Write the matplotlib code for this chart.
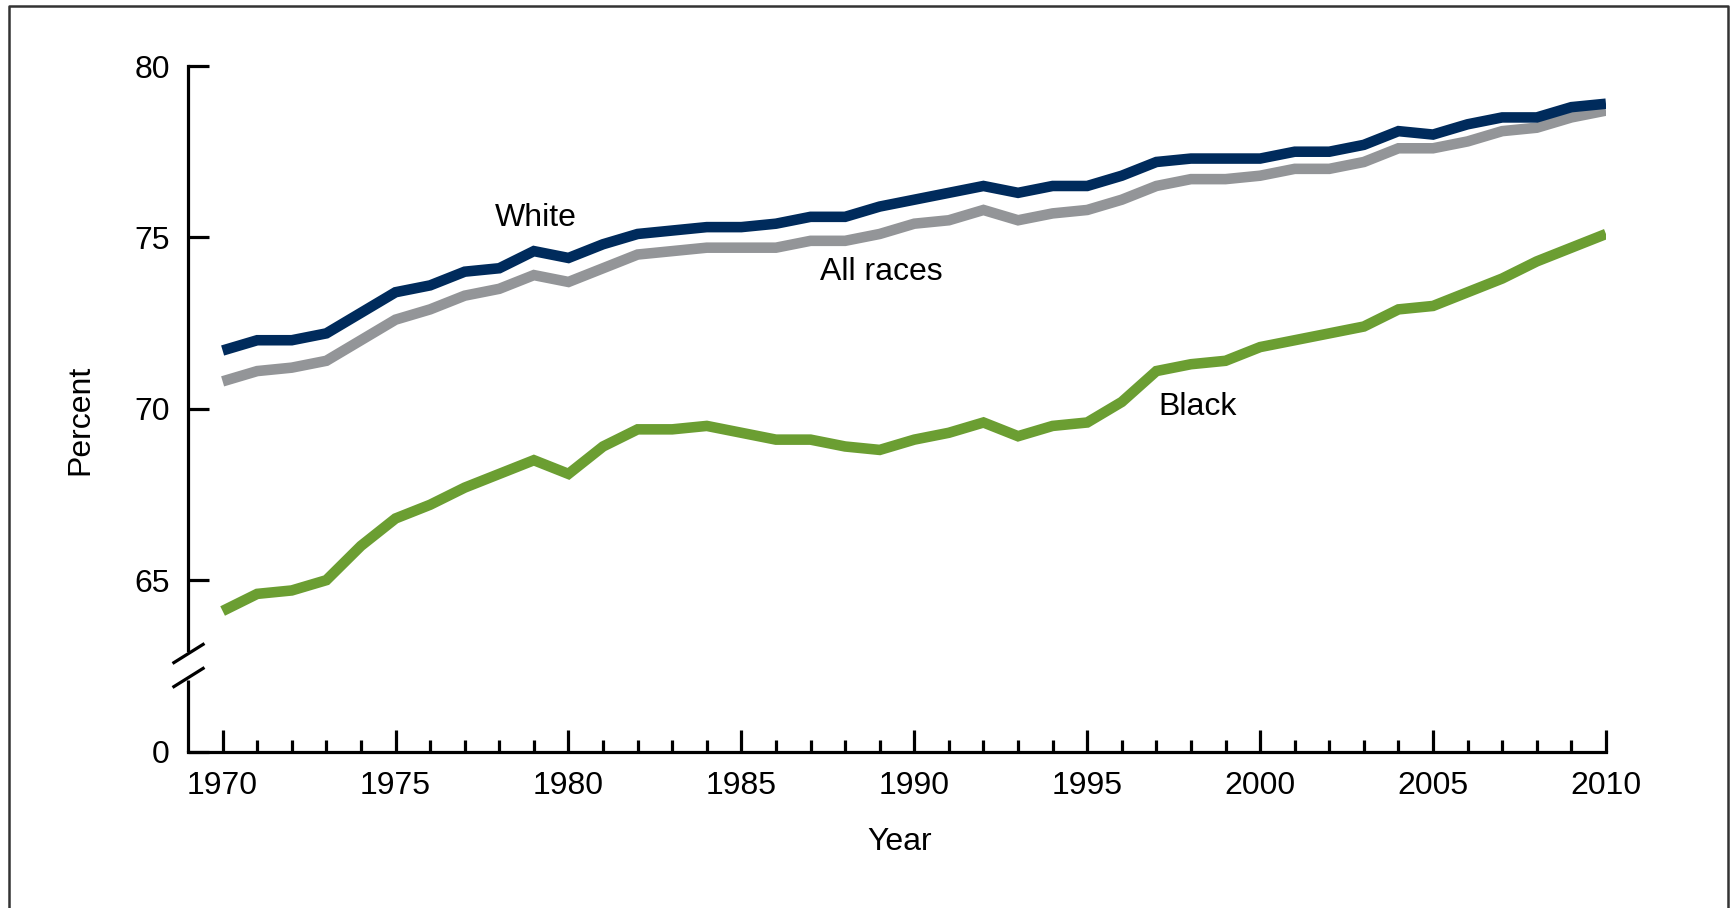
import matplotlib.pyplot as plt
from matplotlib.lines import Line2D

plt.rcParams["font.family"] = ["Liberation Sans", "DejaVu Sans"]

years = list(range(1970, 2011))

white = [71.7, 72.0, 72.0, 72.2, 72.8, 73.4, 73.6, 74.0, 74.1, 74.6,
         74.4, 74.8, 75.1, 75.2, 75.3, 75.3, 75.4, 75.6, 75.6, 75.9,
         76.1, 76.3, 76.5, 76.3, 76.5, 76.5, 76.8, 77.2, 77.3, 77.3,
         77.3, 77.5, 77.5, 77.7, 78.1, 78.0, 78.3, 78.5, 78.5, 78.8,
         78.9]
all_races = [70.8, 71.1, 71.2, 71.4, 72.0, 72.6, 72.9, 73.3, 73.5, 73.9,
             73.7, 74.1, 74.5, 74.6, 74.7, 74.7, 74.7, 74.9, 74.9, 75.1,
             75.4, 75.5, 75.8, 75.5, 75.7, 75.8, 76.1, 76.5, 76.7, 76.7,
             76.8, 77.0, 77.0, 77.2, 77.6, 77.6, 77.8, 78.1, 78.2, 78.5,
             78.7]
black = [64.1, 64.6, 64.7, 65.0, 66.0, 66.8, 67.2, 67.7, 68.1, 68.5,
         68.1, 68.9, 69.4, 69.4, 69.5, 69.3, 69.1, 69.1, 68.9, 68.8,
         69.1, 69.3, 69.6, 69.2, 69.5, 69.6, 70.2, 71.1, 71.3, 71.4,
         71.8, 72.0, 72.2, 72.4, 72.9, 73.0, 73.4, 73.8, 74.3, 74.7,
         75.1]

# 60 on the axis stands in for 0 (broken axis)
y_ticks = [60, 65, 70, 75, 80]
y_tick_labels = ["0", "65", "70", "75", "80"]
x_major = [1970, 1975, 1980, 1985, 1990, 1995, 2000, 2005, 2010]

NAVY = "#002b5c"
GRAY = "#939598"
GREEN = "#6b9e32"
FS = 23

fig = plt.figure(figsize=(17.33, 9.08), dpi=100)
ax = fig.add_axes([0.1085, 0.1723, 0.8182, 0.755])

ax.plot(years, all_races, color=GRAY, lw=7.6, solid_joinstyle="miter",
        solid_capstyle="butt", zorder=3)
ax.plot(years, white, color=NAVY, lw=7.6, solid_joinstyle="miter",
        solid_capstyle="butt", zorder=4)
ax.plot(years, black, color=GREEN, lw=7.6, solid_joinstyle="miter",
        solid_capstyle="butt", zorder=3)

ax.set_xlim(1969, 2010)
ax.set_ylim(60, 80)

for s in ["top", "right"]:
    ax.spines[s].set_visible(False)
ax.spines["left"].set_linewidth(2.3)
ax.spines["bottom"].set_linewidth(2.3)
ax.spines["left"].set_bounds(62.95, 80)

# lower piece of the y axis below the break
ax.plot([0, 0], [60, 62.1], transform=ax.get_yaxis_transform(),
        color="black", lw=2.3, clip_on=False, solid_capstyle="butt")
slash = [(-1, -0.625), (1, 0.625)]
for yb in [62.87, 62.17]:
    ax.plot([0], [yb], transform=ax.get_yaxis_transform(), marker=slash,
            markersize=23, markeredgewidth=2.3, color="black",
            clip_on=False, linestyle="none")

ax.set_yticks(y_ticks)
ax.set_yticklabels(y_tick_labels)
ax.set_xticks(x_major)
ax.set_xticks(years, minor=True)
ax.tick_params(axis="y", direction="in", length=15, width=2.3,
               labelsize=FS, pad=13)
ax.tick_params(axis="x", which="major", direction="in", length=16,
               width=2.3, labelsize=FS, pad=14)
ax.tick_params(axis="x", which="minor", direction="in", length=9,
               width=2.3)

ax.text(1979.06, 75.57, "White", fontsize=FS, ha="center", va="center")
ax.text(1989.04, 73.99, "All races", fontsize=FS, ha="center", va="center")
ax.text(1998.2, 70.05, "Black", fontsize=FS, ha="center", va="center")

fig.text(80 / 1733, 1 - 420 / 908, "Percent", fontsize=FS, rotation=90,
         ha="center", va="center")
fig.text(900 / 1733, 1 - 842 / 908, "Year", fontsize=FS,
         ha="center", va="center")

# outer frame (left, top, right)
fx0, fx1 = 9 / 1733, 1728 / 1733
fy1 = 1 - 6 / 908
fig.add_artist(Line2D([fx0, fx0, fx1, fx1], [0, fy1, fy1, 0],
                      transform=fig.transFigure, color="#333333", lw=1.8))

fig.savefig("out.png", dpi=100)
